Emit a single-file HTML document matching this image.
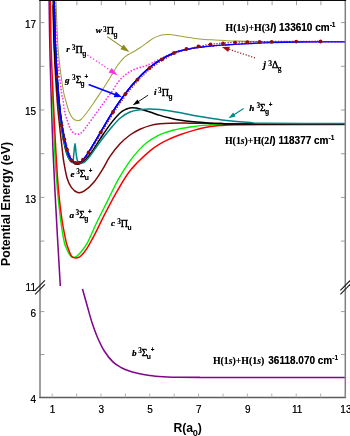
<!DOCTYPE html>
<html><head><meta charset="utf-8"><title>H2 triplet potential energy curves</title><style>
html,body{margin:0;padding:0;background:#fff;}
html{overflow:hidden;}
body{width:350px;height:436px;position:relative;overflow:hidden;font-family:"Liberation Sans",sans-serif;color:#000;}
.t{position:absolute;white-space:nowrap;line-height:1;}
#tx{position:absolute;left:0;top:0;width:350px;height:436px;overflow:hidden;will-change:transform;transform:translateZ(0);}
.tk{font-size:10px;color:#000;-webkit-text-stroke:0.1px #000;text-shadow:0 0 0.5px rgba(0,0,0,0.45);}
.sl{font-family:"Liberation Serif",serif;font-weight:bold;font-size:9.2px;color:#000;text-shadow:0 0 0.5px rgba(0,0,0,0.5);}
.sl .sy{font-weight:normal;-webkit-text-stroke:0.35px #000;font-size:1.02em;letter-spacing:0.2px;}
.sl .sy.pi{font-size:1.1em;}
.sl i{font-style:italic;font-size:9.5px;-webkit-text-stroke:0.15px #000;}
.sl sup{font-size:7.3px;vertical-align:baseline;position:relative;top:-2.9px;line-height:0;}
.sl sub{font-family:"Liberation Sans",sans-serif;font-size:6.7px;vertical-align:baseline;position:relative;top:3.1px;line-height:0;margin-left:-0.8px;}
.sl sub.sf{font-family:"Liberation Serif",serif;font-size:7.2px;}
.sl sup.p{font-family:"Liberation Sans",sans-serif;font-size:6.3px;top:-3.9px;margin-left:-0.2px;}
.as{font-weight:bold;font-size:10px;color:#000;text-shadow:0 0 0.6px rgba(0,0,0,0.55);}
.as .se{font-family:"Liberation Serif",serif;font-size:9.8px;margin-right:0.3px;}
.as sup{font-size:6.6px;vertical-align:baseline;position:relative;top:-4px;line-height:0;}
</style></head><body>
<svg width="350" height="436" viewBox="0 0 350 436" style="position:absolute;left:0;top:0">
<rect x="0" y="0" width="350" height="436" fill="#ffffff"/>
<defs><clipPath id="cp"><rect x="40.0" y="0" width="305.3" height="397.5"/></clipPath></defs>
<g clip-path="url(#cp)" fill="none" stroke-linejoin="round" stroke-linecap="butt">
<path d="M49.10 0.00 C49.23 8.33 49.53 33.33 49.90 50.00 C50.27 66.67 50.78 83.33 51.30 100.00 C51.82 116.67 52.40 135.00 53.00 150.00 C53.60 165.00 54.27 177.50 54.90 190.00 C55.53 202.50 56.20 214.17 56.80 225.00 C57.40 235.83 57.92 244.83 58.50 255.00 C59.08 265.17 60.00 280.83 60.30 286.00" stroke="#80068c" stroke-width="1.55"/>
<path d="M82.50 289.00 C83.27 291.75 85.47 299.73 87.10 305.50 C88.73 311.27 90.58 318.32 92.30 323.60 C94.02 328.88 95.40 332.63 97.40 337.20 C99.40 341.77 101.72 346.88 104.30 351.00 C106.88 355.12 110.05 359.12 112.90 361.90 C115.75 364.68 118.55 366.13 121.40 367.70 C124.25 369.27 127.13 370.32 130.00 371.30 C132.87 372.28 134.32 372.77 138.60 373.60 C142.88 374.43 149.98 375.70 155.70 376.30 C161.42 376.90 165.52 377.02 172.90 377.20 C180.28 377.38 171.32 377.37 200.00 377.40 C228.68 377.43 320.83 377.40 345.00 377.40" stroke="#80068c" stroke-width="1.55"/>
<path d="M52.40 86.00 C52.45 88.33 52.33 89.33 52.70 100.00 C53.07 110.67 53.82 135.00 54.60 150.00 C55.38 165.00 56.40 178.33 57.40 190.00 C58.40 201.67 59.53 211.67 60.60 220.00 C61.67 228.33 62.92 235.48 63.80 240.00 C64.68 244.52 64.88 244.58 65.90 247.10 C66.92 249.62 68.77 253.40 69.90 255.10 C71.03 256.80 71.75 256.98 72.70 257.30 C73.65 257.62 74.63 257.45 75.60 257.00 C76.57 256.55 77.55 255.52 78.50 254.60 C79.45 253.68 79.80 253.50 81.30 251.50 C82.80 249.50 85.05 247.18 87.50 242.60 C89.95 238.02 92.68 230.92 96.00 224.00 C99.32 217.08 103.68 208.53 107.40 201.10 C111.12 193.67 114.70 185.87 118.30 179.40 C121.90 172.93 125.62 167.13 129.00 162.30 C132.38 157.47 135.58 153.75 138.60 150.40 C141.62 147.05 144.25 144.47 147.10 142.20 C149.95 139.93 152.83 138.35 155.70 136.80 C158.57 135.25 161.43 133.98 164.30 132.90 C167.17 131.82 170.05 131.05 172.90 130.30 C175.75 129.55 178.55 128.95 181.40 128.40 C184.25 127.85 186.90 127.47 190.00 127.00 C193.10 126.53 196.67 125.93 200.00 125.60 C203.33 125.27 206.33 125.17 210.00 125.00 C213.67 124.83 199.50 124.70 222.00 124.60 C244.50 124.50 324.50 124.43 345.00 124.40" stroke="#00ee00" stroke-width="1.40"/>
<path d="M50.30 0.00 C50.45 8.33 50.70 33.33 51.20 50.00 C51.70 66.67 52.53 83.33 53.30 100.00 C54.07 116.67 54.93 135.00 55.80 150.00 C56.67 165.00 57.47 178.33 58.50 190.00 C59.53 201.67 60.83 211.83 62.00 220.00 C63.17 228.17 64.67 234.85 65.50 239.00 C66.33 243.15 66.08 242.18 67.00 244.90 C67.92 247.62 69.92 253.22 71.00 255.30 C72.08 257.38 72.65 256.95 73.50 257.40 C74.35 257.85 75.22 258.02 76.10 258.00 C76.98 257.98 77.93 257.70 78.80 257.30 C79.67 256.90 79.93 257.10 81.30 255.60 C82.67 254.10 84.65 252.05 87.00 248.30 C89.35 244.55 92.50 238.67 95.40 233.10 C98.30 227.53 100.97 221.57 104.40 214.90 C107.83 208.23 112.10 199.97 116.00 193.10 C119.90 186.23 124.23 178.78 127.80 173.70 C131.37 168.62 133.70 166.42 137.40 162.60 C141.10 158.78 146.23 153.93 150.00 150.80 C153.77 147.67 156.67 145.80 160.00 143.80 C163.33 141.80 166.78 140.27 170.00 138.80 C173.22 137.33 175.37 136.40 179.30 135.00 C183.23 133.60 188.83 131.73 193.60 130.40 C198.37 129.07 203.17 127.82 207.90 127.00 C212.63 126.18 217.32 125.87 222.00 125.50 C226.68 125.13 229.67 124.97 236.00 124.80 C242.33 124.63 241.83 124.55 260.00 124.50 C278.17 124.45 330.83 124.50 345.00 124.50" stroke="#ff0000" stroke-width="1.50"/>
<path d="M56.00 0.00 C56.37 8.33 57.08 35.50 58.20 50.00 C59.32 64.50 61.47 78.67 62.70 87.00 C63.93 95.33 64.55 95.92 65.60 100.00 C66.65 104.08 67.87 108.53 69.00 111.50 C70.13 114.47 71.12 116.28 72.40 117.80 C73.68 119.32 75.27 120.32 76.70 120.60 C78.13 120.88 79.12 121.10 81.00 119.50 C82.88 117.90 85.67 114.10 88.00 111.00 C90.33 107.90 93.00 103.83 95.00 100.90 C97.00 97.97 98.22 96.08 100.00 93.40 C101.78 90.72 103.80 87.77 105.70 84.80 C107.60 81.83 109.50 78.73 111.40 75.60 C113.30 72.47 115.18 68.78 117.10 66.00 C119.02 63.22 121.37 60.58 122.90 58.90 C124.43 57.22 125.12 56.78 126.30 55.90 C127.48 55.02 128.67 54.38 130.00 53.60 C131.33 52.82 132.63 52.17 134.30 51.20 C135.97 50.23 137.38 49.58 140.00 47.80 C142.62 46.02 147.50 42.23 150.00 40.50 C152.50 38.77 153.33 38.25 155.00 37.40 C156.67 36.55 158.50 35.85 160.00 35.40 C161.50 34.95 162.67 34.85 164.00 34.70 C165.33 34.55 166.67 34.50 168.00 34.50 C169.33 34.50 170.50 34.53 172.00 34.70 C173.50 34.87 174.83 35.13 177.00 35.50 C179.17 35.87 182.00 36.42 185.00 36.90 C188.00 37.38 191.67 37.98 195.00 38.40 C198.33 38.82 201.67 39.13 205.00 39.40 C208.33 39.67 211.67 39.80 215.00 40.00 C218.33 40.20 221.67 40.43 225.00 40.60 C228.33 40.77 229.17 40.87 235.00 41.00 C240.83 41.13 241.67 41.32 260.00 41.40 C278.33 41.48 330.83 41.48 345.00 41.50" stroke="#a0a03a" stroke-width="1.05"/>
<path d="M55.00 0.00 C55.33 8.33 55.97 35.00 57.00 50.00 C58.03 65.00 60.20 81.67 61.20 90.00 C62.20 98.33 62.43 96.42 63.00 100.00 C63.57 103.58 63.85 107.97 64.60 111.50 C65.35 115.03 66.63 118.53 67.50 121.20 C68.37 123.87 68.93 125.65 69.80 127.50 C70.67 129.35 71.75 131.22 72.70 132.30 C73.65 133.38 74.55 133.68 75.50 134.00 C76.45 134.32 77.32 134.48 78.40 134.20 C79.48 133.92 80.78 133.40 82.00 132.30 C83.22 131.20 84.13 129.67 85.70 127.60 C87.27 125.53 89.50 122.52 91.40 119.90 C93.30 117.28 95.18 114.57 97.10 111.90 C99.02 109.23 101.05 106.47 102.90 103.90 C104.75 101.33 106.58 98.72 108.20 96.50 C109.82 94.28 110.75 93.25 112.60 90.60 C114.45 87.95 116.75 83.55 119.30 80.60 C121.85 77.65 125.05 74.90 127.90 72.90 C130.75 70.90 133.55 69.75 136.40 68.60 C139.25 67.45 142.40 66.93 145.00 66.00 C147.60 65.07 149.50 64.17 152.00 63.00 C154.50 61.83 157.47 60.25 160.00 59.00 C162.53 57.75 165.00 56.53 167.20 55.50 C169.40 54.47 171.23 53.52 173.20 52.80 C175.17 52.08 177.03 51.70 179.00 51.20 C180.97 50.70 182.33 50.35 185.00 49.80 C187.67 49.25 191.67 48.43 195.00 47.90 C198.33 47.37 201.67 46.97 205.00 46.60 C208.33 46.23 211.67 45.97 215.00 45.70 C218.33 45.43 221.67 45.23 225.00 45.00 C228.33 44.77 230.83 44.55 235.00 44.30 C239.17 44.05 244.17 43.78 250.00 43.50 C255.83 43.22 261.67 42.85 270.00 42.60 C278.33 42.35 287.50 42.13 300.00 42.00 C312.50 41.87 337.50 41.83 345.00 41.80" stroke="#ff30e8" stroke-width="1.70" stroke-dasharray="0.1 3.1" stroke-linecap="round"/>
<path d="M53.00 0.00 C53.20 8.33 53.52 33.33 54.20 50.00 C54.88 66.67 56.22 87.50 57.10 100.00 C57.98 112.50 58.63 116.67 59.50 125.00 C60.37 133.33 61.58 143.83 62.30 150.00 C63.02 156.17 63.00 157.28 63.80 162.00 C64.60 166.72 65.82 174.03 67.10 178.30 C68.38 182.57 69.72 185.22 71.50 187.60 C73.28 189.98 75.65 192.05 77.80 192.60 C79.95 193.15 81.70 192.67 84.40 190.90 C87.10 189.13 90.90 185.72 94.00 182.00 C97.10 178.28 100.33 172.88 103.00 168.60 C105.67 164.32 107.17 160.43 110.00 156.30 C112.83 152.17 116.67 147.35 120.00 143.80 C123.33 140.25 126.67 137.42 130.00 135.00 C133.33 132.58 136.67 130.87 140.00 129.30 C143.33 127.73 146.67 126.52 150.00 125.60 C153.33 124.68 156.67 124.20 160.00 123.80 C163.33 123.40 165.83 123.32 170.00 123.20 C174.17 123.08 180.00 123.08 185.00 123.10 C190.00 123.12 194.17 123.22 200.00 123.30 C205.83 123.38 211.67 123.48 220.00 123.60 C228.33 123.72 229.17 123.93 250.00 124.00 C270.83 124.07 329.17 124.00 345.00 124.00" stroke="#800808" stroke-width="1.50"/>
<path d="M53.10 0.00 C53.35 8.33 53.75 33.33 54.60 50.00 C55.45 66.67 57.00 86.67 58.20 100.00 C59.40 113.33 60.55 121.67 61.80 130.00 C63.05 138.33 64.40 145.08 65.70 150.00 C67.00 154.92 67.88 157.17 69.60 159.50 C71.32 161.83 73.93 163.48 76.00 164.00 C78.07 164.52 79.67 164.18 82.00 162.60 C84.33 161.02 87.00 158.40 90.00 154.50 C93.00 150.60 96.67 144.18 100.00 139.20 C103.33 134.22 106.67 128.97 110.00 124.60 C113.33 120.23 117.33 115.57 120.00 113.00 C122.67 110.43 124.08 110.08 126.00 109.20 C127.92 108.32 129.67 107.87 131.50 107.70 C133.33 107.53 135.42 107.95 137.00 108.20 C138.58 108.45 138.83 108.57 141.00 109.20 C143.17 109.83 146.83 110.97 150.00 112.00 C153.17 113.03 156.67 114.40 160.00 115.40 C163.33 116.40 166.78 117.23 170.00 118.00 C173.22 118.77 175.37 119.37 179.30 120.00 C183.23 120.63 188.83 121.32 193.60 121.80 C198.37 122.28 203.17 122.60 207.90 122.90 C212.63 123.20 217.32 123.42 222.00 123.60 C226.68 123.78 215.50 123.92 236.00 124.00 C256.50 124.08 326.83 124.08 345.00 124.10" stroke="#000000" stroke-width="1.50"/>
<path d="M54.20 0.00 C54.43 8.33 54.85 33.33 55.60 50.00 C56.35 66.67 57.62 86.67 58.70 100.00 C59.78 113.33 60.90 121.67 62.10 130.00 C63.30 138.33 64.65 145.03 65.90 150.00 C67.15 154.97 68.45 157.80 69.60 159.80 C70.75 161.80 72.10 162.97 72.80 162.00 C73.50 161.03 73.43 157.07 73.80 154.00 C74.17 150.93 74.60 143.60 75.00 143.60 C75.40 143.60 75.78 151.10 76.20 154.00 C76.62 156.90 76.87 159.53 77.50 161.00 C78.13 162.47 78.92 162.55 80.00 162.80 C81.08 163.05 82.33 163.63 84.00 162.50 C85.67 161.37 87.33 159.42 90.00 156.00 C92.67 152.58 96.67 146.47 100.00 142.00 C103.33 137.53 106.67 133.17 110.00 129.20 C113.33 125.23 116.67 121.07 120.00 118.20 C123.33 115.33 126.67 113.40 130.00 112.00 C133.33 110.60 136.67 110.30 140.00 109.80 C143.33 109.30 146.67 109.03 150.00 109.00 C153.33 108.97 156.67 109.27 160.00 109.60 C163.33 109.93 166.78 110.50 170.00 111.00 C173.22 111.50 175.37 111.87 179.30 112.60 C183.23 113.33 188.83 114.53 193.60 115.40 C198.37 116.27 203.17 117.05 207.90 117.80 C212.63 118.55 217.25 119.28 222.00 119.90 C226.75 120.52 231.62 121.05 236.40 121.50 C241.18 121.95 245.93 122.30 250.70 122.60 C255.47 122.90 249.28 123.13 265.00 123.30 C280.72 123.47 331.67 123.55 345.00 123.60" stroke="#008488" stroke-width="1.50"/>
<path d="M54.20 0.00 C54.43 8.33 54.80 33.33 55.60 50.00 C56.40 66.67 57.85 87.00 59.00 100.00 C60.15 113.00 61.23 120.00 62.50 128.00 C63.77 136.00 65.27 142.92 66.60 148.00 C67.93 153.08 68.93 156.00 70.50 158.50 C72.07 161.00 74.08 162.58 76.00 163.00 C77.92 163.42 79.95 162.72 82.00 161.00 C84.05 159.28 86.25 155.73 88.30 152.70 C90.35 149.67 92.28 146.17 94.30 142.80 C96.32 139.43 98.37 135.95 100.40 132.50 C102.43 129.05 104.45 125.53 106.50 122.10 C108.55 118.67 110.63 115.17 112.70 111.90 C114.77 108.63 116.83 105.50 118.90 102.50 C120.97 99.50 123.07 96.60 125.10 93.90 C127.13 91.20 129.10 88.70 131.10 86.30 C133.10 83.90 135.08 81.67 137.10 79.50 C139.12 77.33 141.17 75.25 143.20 73.30 C145.23 71.35 147.25 69.50 149.30 67.80 C151.35 66.10 153.43 64.53 155.50 63.10 C157.57 61.67 159.67 60.42 161.70 59.20 C163.73 57.98 165.70 56.82 167.70 55.80 C169.70 54.78 171.82 53.87 173.70 53.10 C175.58 52.33 177.12 51.75 179.00 51.20 C180.88 50.65 182.33 50.35 185.00 49.80 C187.67 49.25 191.67 48.43 195.00 47.90 C198.33 47.37 201.67 46.97 205.00 46.60 C208.33 46.23 211.67 45.97 215.00 45.70 C218.33 45.43 221.67 45.23 225.00 45.00 C228.33 44.77 230.83 44.55 235.00 44.30 C239.17 44.05 244.17 43.78 250.00 43.50 C255.83 43.22 261.67 42.85 270.00 42.60 C278.33 42.35 287.50 42.13 300.00 42.00 C312.50 41.87 337.50 41.83 345.00 41.80" stroke="#0000ff" stroke-width="1.3"/>
<path d="M54.20 0.00 C54.43 8.33 54.80 33.33 55.60 50.00 C56.40 66.67 57.85 87.00 59.00 100.00 C60.15 113.00 61.23 120.00 62.50 128.00 C63.77 136.00 65.27 142.92 66.60 148.00 C67.93 153.08 68.93 156.00 70.50 158.50 C72.07 161.00 74.08 162.58 76.00 163.00 C77.92 163.42 79.95 162.72 82.00 161.00 C84.05 159.28 86.25 155.73 88.30 152.70 C90.35 149.67 92.28 146.17 94.30 142.80 C96.32 139.43 98.37 135.95 100.40 132.50 C102.43 129.05 104.45 125.53 106.50 122.10 C108.55 118.67 110.63 115.17 112.70 111.90 C114.77 108.63 116.83 105.50 118.90 102.50 C120.97 99.50 123.07 96.60 125.10 93.90 C127.13 91.20 129.10 88.70 131.10 86.30 C133.10 83.90 135.08 81.67 137.10 79.50 C139.12 77.33 141.17 75.25 143.20 73.30 C145.23 71.35 147.25 69.50 149.30 67.80 C151.35 66.10 153.43 64.53 155.50 63.10 C157.57 61.67 159.67 60.42 161.70 59.20 C163.73 57.98 165.70 56.82 167.70 55.80 C169.70 54.78 171.82 53.87 173.70 53.10 C175.58 52.33 177.12 51.75 179.00 51.20 C180.88 50.65 182.33 50.35 185.00 49.80 C187.67 49.25 191.67 48.43 195.00 47.90 C198.33 47.37 203.33 46.82 205.00 46.60" stroke="#0000ff" stroke-width="1.4"/>
<path d="M54.20 0.00 C54.43 8.33 54.80 33.33 55.60 50.00 C56.40 66.67 57.85 87.00 59.00 100.00 C60.15 113.00 61.23 120.00 62.50 128.00 C63.77 136.00 65.27 142.92 66.60 148.00 C67.93 153.08 68.93 156.00 70.50 158.50 C72.07 161.00 74.08 162.58 76.00 163.00 C77.92 163.42 79.95 162.72 82.00 161.00 C84.05 159.28 86.25 155.73 88.30 152.70 C90.35 149.67 92.28 146.17 94.30 142.80 C96.32 139.43 98.37 135.95 100.40 132.50 C102.43 129.05 104.45 125.53 106.50 122.10 C108.55 118.67 110.63 115.17 112.70 111.90 C114.77 108.63 116.83 105.50 118.90 102.50 C120.97 99.50 123.07 96.60 125.10 93.90 C127.13 91.20 129.10 88.70 131.10 86.30 C133.10 83.90 135.08 81.67 137.10 79.50 C139.12 77.33 141.17 75.25 143.20 73.30 C145.23 71.35 147.25 69.50 149.30 67.80 C151.35 66.10 153.43 64.53 155.50 63.10 C157.57 61.67 159.67 60.42 161.70 59.20 C163.73 57.98 165.70 56.82 167.70 55.80 C169.70 54.78 172.70 53.55 173.70 53.10" stroke="#0000ff" stroke-width="1.55"/>
<path d="M62.40 125.80 L65.30 139.90 L67.90 150.10 L72.50 161.10 L76.50 163.50 L79.90 163.10 L83.90 160.10 L89.50 152.90 L101.60 132.90 L113.90 112.50 L126.30 94.50 L138.30 80.20 L150.50 68.50 L162.90 59.90 L174.82 53.43 L186.97 49.21 L198.73 46.40 L210.69 44.18 L223.00 43.10 L235.00 42.30 L247.40 41.90 L259.60 41.70 L271.70 41.50 L296.20 41.30 L320.60 41.20" stroke="#a01010" stroke-width="1.2" stroke-dasharray="1.2 1.6" />
<circle cx="57.0" cy="76.6" r="1.9" fill="#8e0b12" stroke="none"/>
<circle cx="61.5" cy="125.3" r="1.9" fill="#8e0b12" stroke="none"/>
<circle cx="64.4" cy="139.4" r="1.9" fill="#8e0b12" stroke="none"/>
<circle cx="67.0" cy="149.6" r="1.9" fill="#8e0b12" stroke="none"/>
<circle cx="71.6" cy="160.6" r="1.9" fill="#8e0b12" stroke="none"/>
<circle cx="75.6" cy="163.0" r="1.9" fill="#8e0b12" stroke="none"/>
<circle cx="79.0" cy="162.6" r="1.9" fill="#8e0b12" stroke="none"/>
<circle cx="83.0" cy="159.6" r="1.9" fill="#8e0b12" stroke="none"/>
<circle cx="88.6" cy="152.4" r="1.9" fill="#8e0b12" stroke="none"/>
<circle cx="100.7" cy="132.4" r="1.9" fill="#8e0b12" stroke="none"/>
<circle cx="113.0" cy="112.0" r="1.9" fill="#8e0b12" stroke="none"/>
<circle cx="125.4" cy="94.0" r="1.9" fill="#8e0b12" stroke="none"/>
<circle cx="137.4" cy="79.7" r="1.9" fill="#8e0b12" stroke="none"/>
<circle cx="149.6" cy="68.0" r="1.9" fill="#8e0b12" stroke="none"/>
<circle cx="162.0" cy="59.4" r="1.9" fill="#8e0b12" stroke="none"/>
<circle cx="174.0" cy="53.0" r="1.9" fill="#8e0b12" stroke="none"/>
<circle cx="186.4" cy="49.0" r="1.9" fill="#8e0b12" stroke="none"/>
<circle cx="198.4" cy="46.4" r="1.9" fill="#8e0b12" stroke="none"/>
<circle cx="210.6" cy="44.4" r="1.9" fill="#8e0b12" stroke="none"/>
<circle cx="223.0" cy="43.4" r="1.9" fill="#8e0b12" stroke="none"/>
<circle cx="235.0" cy="42.6" r="1.9" fill="#8e0b12" stroke="none"/>
<circle cx="247.4" cy="42.2" r="1.9" fill="#8e0b12" stroke="none"/>
<circle cx="259.6" cy="42.0" r="1.9" fill="#8e0b12" stroke="none"/>
<circle cx="271.7" cy="41.8" r="1.9" fill="#8e0b12" stroke="none"/>
<circle cx="296.2" cy="41.6" r="1.9" fill="#8e0b12" stroke="none"/>
<circle cx="320.6" cy="41.5" r="1.9" fill="#8e0b12" stroke="none"/>
</g>
<g stroke="#808080" stroke-width="1.5" fill="none">
<path d="M40.0 0 V397.5 M345.3 397.5 V0"/>
</g>
<path d="M39.2 397.5 H346.1" stroke="#5c5c5c" stroke-width="1.3" fill="none"/>
<path d="M39.2 0.5 H346.1" stroke="#0a0a0a" stroke-width="1.2"/>
<g stroke="#8c8c8c" stroke-width="0.85">
<path d="M52.20 397.5 v-4.0" stroke="#a8a8a8"/>
<path d="M52.50 1.2 v4.0"/>
<path d="M76.60 397.5 v-4.0" stroke="#a8a8a8"/>
<path d="M76.90 1.2 v4.0"/>
<path d="M101.00 397.5 v-4.0" stroke="#a8a8a8"/>
<path d="M101.30 1.2 v4.0"/>
<path d="M125.40 397.5 v-4.0" stroke="#a8a8a8"/>
<path d="M125.70 1.2 v4.0"/>
<path d="M149.80 397.5 v-4.0" stroke="#a8a8a8"/>
<path d="M150.10 1.2 v4.0"/>
<path d="M174.20 397.5 v-4.0" stroke="#a8a8a8"/>
<path d="M174.50 1.2 v4.0"/>
<path d="M198.60 397.5 v-4.0" stroke="#a8a8a8"/>
<path d="M198.90 1.2 v4.0"/>
<path d="M223.00 397.5 v-4.0" stroke="#a8a8a8"/>
<path d="M223.30 1.2 v4.0"/>
<path d="M247.40 397.5 v-4.0" stroke="#a8a8a8"/>
<path d="M247.70 1.2 v4.0"/>
<path d="M271.80 397.5 v-4.0" stroke="#a8a8a8"/>
<path d="M272.10 1.2 v4.0"/>
<path d="M296.20 397.5 v-4.0" stroke="#a8a8a8"/>
<path d="M296.50 1.2 v4.0"/>
<path d="M320.60 397.5 v-4.0" stroke="#a8a8a8"/>
<path d="M320.90 1.2 v4.0"/>
<path d="M345.00 397.5 v-4.0" stroke="#a8a8a8"/>
<path d="M345.30 1.2 v4.0"/>
<path d="M40.0 22.60 h4.3"/>
<path d="M345.3 22.60 h-4.3"/>
<path d="M40.0 66.30 h4.3"/>
<path d="M345.3 66.30 h-4.3"/>
<path d="M40.0 110.00 h4.3"/>
<path d="M345.3 110.00 h-4.3"/>
<path d="M40.0 153.70 h4.3"/>
<path d="M345.3 153.70 h-4.3"/>
<path d="M40.0 197.40 h4.3"/>
<path d="M345.3 197.40 h-4.3"/>
<path d="M40.0 241.10 h4.3"/>
<path d="M345.3 241.10 h-4.3"/>
<path d="M40.0 311.60 h4.3"/>
<path d="M345.3 311.60 h-4.3"/>
<path d="M40.0 354.50 h4.3"/>
<path d="M345.3 354.50 h-4.3"/>
</g>
<path d="M35.1 290.4 L44.9 280.4" stroke="#1a1a1a" stroke-width="1.15"/>
<path d="M35.1 294.3 L44.9 284.3" stroke="#1a1a1a" stroke-width="1.15"/>
<path d="M340.4 290.4 L350.2 280.4" stroke="#1a1a1a" stroke-width="1.15"/>
<path d="M340.4 294.3 L350.2 284.3" stroke="#1a1a1a" stroke-width="1.15"/>
<path d="M107.2 36.6 L123.5 47.9" stroke="#8c8a1e" stroke-width="1.15" fill="none"/><path d="M129.4 52.0 L120.4 49.2 L123.6 44.6 Z" fill="#8c8a1e"/>
<path d="M87.4 55.0 L111.6 71.2" stroke="#ff30e8" stroke-width="1.30" fill="none" stroke-dasharray="1.3 2.1"/><path d="M117.6 75.2 L108.6 72.5 L111.7 67.9 Z" fill="#ff30e8"/>
<path d="M88.6 84.6 L116.2 94.9" stroke="#0000ff" stroke-width="1.60" fill="none"/><path d="M121.8 97.0 L113.7 97.2 L115.8 91.6 Z" fill="#0000ff"/>
<path d="M148.1 95.2 L137.4 102.2" stroke="#000" stroke-width="0.90" fill="none"/><path d="M132.7 105.2 L137.4 99.5 L139.8 103.2 Z" fill="#000"/>
<path d="M243.6 108.5 L233.2 115.3" stroke="#008a8f" stroke-width="1.20" fill="none"/><path d="M228.5 118.3 L233.1 112.6 L235.6 116.4 Z" fill="#008a8f"/>
<path d="M255.0 57.9 L227.6 48.8" stroke="#a01010" stroke-width="1.20" fill="none" stroke-dasharray="1.2 1.7"/><path d="M221.9 46.9 L229.9 46.7 L228.2 51.9 Z" fill="#a01010"/>
</svg>
<div id="tx">
<div class="t tk" style="right:314.0px;top:19.9px">17</div>
<div class="t tk" style="right:314.0px;top:107.3px">15</div>
<div class="t tk" style="right:314.0px;top:194.7px">13</div>
<div class="t tk" style="right:314.0px;top:282.8px">11</div>
<div class="t tk" style="right:314.0px;top:308.9px">6</div>
<div class="t tk" style="right:314.0px;top:394.8px">4</div>
<div class="t tk" style="left:42.5px;top:404.6px;width:20px;text-align:center">1</div>
<div class="t tk" style="left:91.3px;top:404.6px;width:20px;text-align:center">3</div>
<div class="t tk" style="left:140.1px;top:404.6px;width:20px;text-align:center">5</div>
<div class="t tk" style="left:188.9px;top:404.6px;width:20px;text-align:center">7</div>
<div class="t tk" style="left:237.7px;top:404.6px;width:20px;text-align:center">9</div>
<div class="t tk" style="left:287.1px;top:404.6px;width:20px;text-align:center">11</div>
<div class="t tk" style="left:335.9px;top:404.6px;width:20px;text-align:center">13</div>
<div class="t" style="left:6.1px;top:204.3px;width:0;height:0"><div class="t" style="font-weight:bold;font-size:12.35px;transform:translate(-50%,-50%) rotate(-90deg);left:0;top:0">Potential Energy (eV)</div></div>
<div class="t" style="left:173.4px;top:421.6px;font-weight:bold;font-size:12.2px">R(a<span style="font-size:9.2px;position:relative;top:4.2px;margin:0 -0.2px">0</span>)</div>
<div class="t sl" style="left:95.7px;top:26.4px;font-size:9.20px"><i style="font-size:9.10px">w</i></div><div class="t sl" style="left:103.1px;top:26.4px;font-size:9.20px"><sup>3</sup><span class="sy pi">&#928;</span><sub>g</sub></div>
<div class="t sl" style="left:66.3px;top:45.0px;font-size:9.20px"><i style="font-size:9.10px">r</i></div><div class="t sl" style="left:71.8px;top:45.0px;font-size:9.20px"><sup>3</sup><span class="sy pi">&#928;</span><sub>g</sub></div>
<div class="t sl" style="left:65.1px;top:76.1px;font-size:9.20px"><i style="font-size:9.10px">g</i></div><div class="t sl" style="left:72.0px;top:76.1px;font-size:9.20px"><sup>3</sup><span class="sy">&#931;</span><sub>g</sub><sup class="p">+</sup></div>
<div class="t sl" style="left:154.1px;top:88.3px;font-size:9.20px"><i style="font-size:9.10px">i</i></div><div class="t sl" style="left:158.1px;top:88.3px;font-size:9.20px"><sup>3</sup><span class="sy pi">&#928;</span><sub>g</sub></div>
<div class="t sl" style="left:249.3px;top:103.9px;font-size:9.20px"><i style="font-size:9.10px">h</i></div><div class="t sl" style="left:256.4px;top:103.9px;font-size:9.20px"><sup>3</sup><span class="sy">&#931;</span><sub>g</sub><sup class="p">+</sup></div>
<div class="t sl" style="left:263.3px;top:60.4px;font-size:9.66px"><i style="font-size:9.55px">j</i></div><div class="t sl" style="left:268.2px;top:60.4px;font-size:9.66px"><sup style="font-size:7.67px">3</sup><span class="sy">&#916;</span><sub class="sf" style="font-size:7.56px">g</sub></div>
<div class="t sl" style="left:70.4px;top:170.2px;font-size:9.20px"><i style="font-size:9.10px">e</i></div><div class="t sl" style="left:76.2px;top:170.2px;font-size:9.20px"><sup>3</sup><span class="sy">&#931;</span><sub>u</sub><sup class="p">+</sup></div>
<div class="t sl" style="left:69.5px;top:211.2px;font-size:9.20px"><i style="font-size:9.10px">a</i></div><div class="t sl" style="left:75.6px;top:211.2px;font-size:9.20px"><sup>3</sup><span class="sy">&#931;</span><sub>g</sub><sup class="p">+</sup></div>
<div class="t sl" style="left:111.1px;top:219.0px;font-size:9.20px"><i style="font-size:9.10px">c</i></div><div class="t sl" style="left:117.2px;top:219.0px;font-size:9.20px"><sup>3</sup><span class="sy pi">&#928;</span><sub>u</sub></div>
<div class="t sl" style="left:132.0px;top:348.5px;font-size:9.20px"><i style="font-size:9.10px">b</i></div><div class="t sl" style="left:138.2px;top:348.5px;font-size:9.20px"><sup>3</sup><span class="sy">&#931;</span><sub>u</sub><sup class="p">+</sup></div>
<div class="t as" style="left:225.6px;top:23.2px"><span class="se">H(1<i>s</i>)+H(3</span><i>l</i>) 133610 cm<sup>-1</sup></div>
<div class="t as" style="left:225.0px;top:136.4px"><span class="se">H(1<i>s</i>)+H(2</span><i>l</i>) 118377 cm<sup>-1</sup></div>
<div class="t as" style="left:212.9px;top:356.0px"><span class="se">H(1<i>s</i>)+H(1<i>s</i>)</span><span style="margin-left:1px"></span> 36118.070 cm<sup>-1</sup></div>
</div></body></html>
